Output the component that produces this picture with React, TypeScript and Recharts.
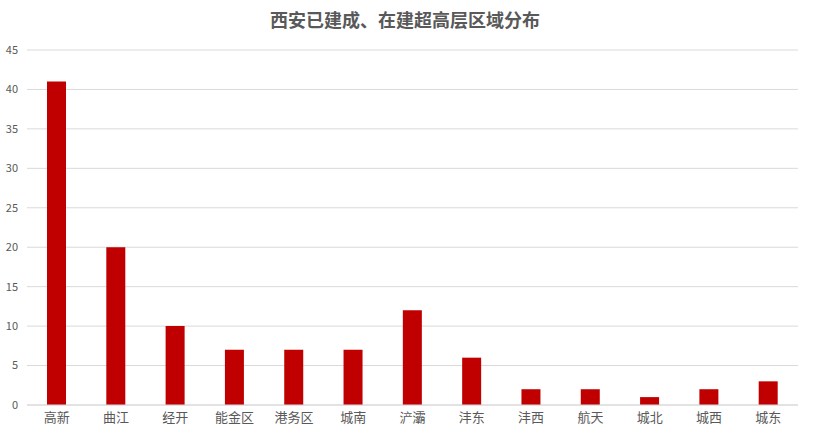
import { BarChart, Bar, XAxis, YAxis, CartesianGrid } from 'recharts'

const regions = ['高新', '曲江', '经开', '能金区', '港务区', '城南', '浐灞', '沣东', '沣西', '航天', '城北', '城西', '城东']
const towerCounts = [41, 20, 10, 7, 7, 7, 12, 6, 2, 2, 1, 2, 3]
const yTicks = [0, 5, 10, 15, 20, 25, 30, 35, 40, 45]

const data = regions.map((name, i) => ({ name, count: towerCounts[i] }))

const cjk = '"Noto Sans CJK SC", "Noto Sans", sans-serif'

export default function App() {
  return (
    <div style={{ position: 'absolute', left: 0, top: 0, width: 813, height: 435, background: '#fff' }}>
      <div
        style={{
          position: 'absolute', left: 0, top: 6, width: 810, textAlign: 'center',
          fontFamily: cjk, fontSize: 18, fontWeight: 'bold', color: '#595959',
        }}
      >
        西安已建成、在建超高层区域分布
      </div>
      <BarChart
        width={813}
        height={435}
        data={data}
        margin={{ top: 50, right: 15, left: 0, bottom: 0 }}
        barCategoryGap="34%"
      >
        <CartesianGrid vertical={false} stroke="#d9d9d9" />
        <XAxis
          dataKey="name"
          height={30}
          interval={0}
          tickLine={false}
          axisLine={{ stroke: '#d9d9d9' }}
          tick={{ fontSize: 13, fill: '#595959', fontFamily: cjk }}
        />
        <YAxis
          width={27}
          domain={[0, 45]}
          ticks={yTicks}
          tickLine={false}
          axisLine={false}
          tickMargin={3}
          tick={{ fontSize: 11, fill: '#595959', fontFamily: cjk }}
        />
        <Bar dataKey="count" fill="#c00000" barSize={19} isAnimationActive={false} />
      </BarChart>
    </div>
  )
}
